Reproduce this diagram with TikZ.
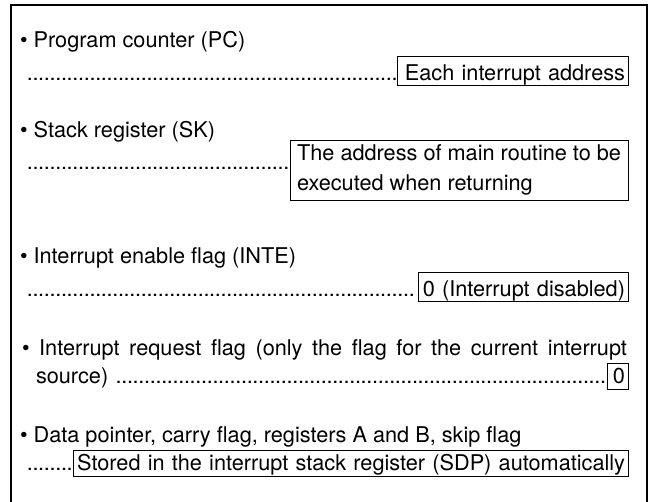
\documentclass[tikz,border=0pt]{standalone}
\usepackage{fontspec}
\setmainfont{TeX Gyre Heros}
\usetikzlibrary{positioning}

\newcommand{\itemfont}{\fontsize{21.7pt}{30pt}\selectfont}
\newcommand{\dotrun}[1]{\hbox to #1{\leaders\hbox to 5.7pt{\hss.\hss}\hfill}}

\tikzstyle{itemtext} = [inner sep=0pt, outer sep=0pt, anchor=base west, font=\itemfont]
\tikzstyle{leader} = [inner sep=0pt, outer sep=0pt, anchor=base west, font=\itemfont]
\tikzstyle{valbox} = [draw, line width=0.9pt, inner xsep=3pt, inner ysep=0pt, outer sep=0pt, anchor=base east, font=\itemfont, text height=24pt, text depth=5pt, align=right]
\tikzstyle{lowbox} = [valbox, text height=20pt, text depth=6pt]
\tikzstyle{twobox} = [draw, line width=0.9pt, inner xsep=7pt, inner ysep=5pt, outer sep=0pt, anchor=north east, font=\itemfont, align=left]
\tikzstyle{frame} = [line width=2pt]

\begin{document}
\begin{tikzpicture}[x=1pt, y=-1pt]
\useasboundingbox (0,0) rectangle (652,501);

% Frame
\draw [frame] (11,503) -- (11,5) -- (647,5) -- (647,503);

% Program counter
\node (pc) [itemtext] at (20,47) {\textbullet\ Program counter (PC)};
\node (pcdots) [leader] at (27,80) {\dotrun{374pt}};
\node (pcval) [valbox, text width=225pt] at (628,80) {Each interrupt address};

% Stack register
\node (sk) [itemtext] at (20,137) {\textbullet\ Stack register (SK)};
\node (skdots) [leader] at (27,169) {\dotrun{263pt}};
\node (skval) [twobox] at (628,140) {The address of main routine to be\\executed when returning};

% Interrupt enable flag
\node (inte) [itemtext] at (20,263) {\textbullet\ Interrupt enable flag (INTE)};
\node (intedots) [leader] at (27,296) {\dotrun{391pt}};
\node (inteval) [valbox, text width=204pt] at (628,296) {0 (Interrupt disabled)};

% Interrupt request flag
\node (irq) [itemtext] at (22,355) {\hbox to 605pt{\textbullet\ Interrupt request flag (only the flag for the current interrupt}};
\node (irqdots) [leader] at (36,383) {\hbox to 571pt{source)\ \leaders\hbox to 5.7pt{\hss.\hss}\hfill}};
\node (irqval) [lowbox, text width=15pt] at (628,383) {0};

% Data pointer etc.
\node (dp) [itemtext] at (20,442) {\textbullet\ Data pointer, carry flag, registers A and B, skip flag};
\node (dpdots) [leader] at (27,470) {\dotrun{46pt}};
\node (dpval) [lowbox, text width=549pt] at (628,470) {Stored in the interrupt stack register (SDP) automatically};

\end{tikzpicture}
\end{document}
